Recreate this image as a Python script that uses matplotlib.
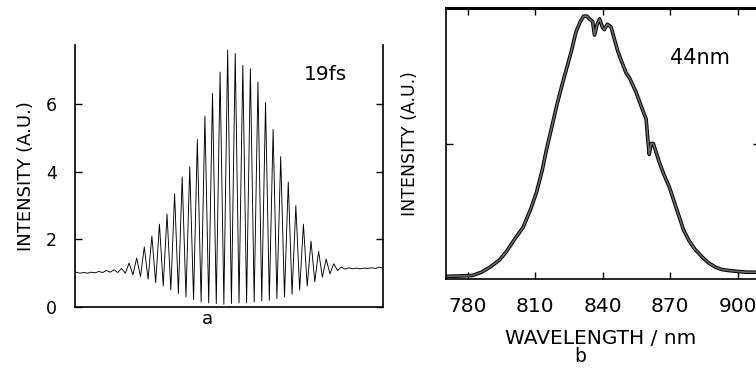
import numpy as np
import matplotlib
matplotlib.use("Agg")
import matplotlib.pyplot as plt

# (a) interferometric autocorrelation: fringe index, fringe maxima and minima
fringe_k = list(range(-20, 21))
fringe_hi = [1.03, 1.02, 1.03, 1.05, 1.08, 1.10, 1.14, 1.30, 1.45, 1.78,
             2.10, 2.45, 2.75, 3.35, 3.85, 4.15, 4.95, 5.65, 6.32, 6.95,
             7.60,
             7.50, 7.15, 7.05, 6.65, 6.05, 5.25, 4.45, 3.70, 3.00, 2.45,
             1.95, 1.65, 1.42, 1.28, 1.18, 1.16, 1.15, 1.15, 1.16, 1.18]
fringe_lo = [1.00, 1.00, 1.01, 1.02, 1.03, 1.02, 1.00, 0.95, 0.90, 0.82,
             0.72, 0.62, 0.50, 0.40, 0.30, 0.22, 0.15, 0.12, 0.10, 0.08,
             0.10,
             0.12, 0.12, 0.15, 0.18, 0.20, 0.25, 0.30, 0.38, 0.50, 0.62,
             0.75, 0.88, 0.98, 1.08, 1.12, 1.13, 1.13, 1.14, 1.14, 1.15]
period = 2.8  # fs, optical cycle at ~840 nm

# (b) spectrum
wl = [771, 776, 782, 786, 790, 794, 797, 801, 804.5, 808, 810.5, 813, 815,
      817, 819.5, 822, 824, 826, 828, 830, 831.5, 833, 834, 835.5, 836.3,
      837.5, 838.6, 839.8, 840.7, 842, 843.7, 845, 846.7, 848.5, 850.4, 852,
      854.8, 857, 859.3, 860, 860.7, 861.5, 862.5, 865.2, 867, 869.6, 872,
      874, 876, 878.5, 881, 884.4, 887, 890.3, 893, 896.3, 900, 904, 910]
spec = [0.01, 0.011, 0.013, 0.025, 0.045, 0.07, 0.10, 0.15, 0.19, 0.26, 0.32,
        0.40, 0.48, 0.55, 0.64, 0.72, 0.78, 0.84, 0.91, 0.95, 0.97, 0.97,
        0.96, 0.95, 0.90, 0.94, 0.96, 0.93, 0.92, 0.94, 0.93, 0.89, 0.84,
        0.80, 0.76, 0.74, 0.69, 0.64, 0.59, 0.52, 0.46, 0.50, 0.50, 0.43,
        0.39, 0.34, 0.28, 0.23, 0.18, 0.14, 0.11, 0.08, 0.06, 0.043, 0.035,
        0.031, 0.028, 0.025, 0.025]

W, H = 756, 371
fig = plt.figure(figsize=(W / 100, H / 100), dpi=100)
fig.patch.set_facecolor("white")

def px(x, y):
    return x / W, 1 - y / H

# ---------- panel a ----------
ax1 = fig.add_axes([75 / W, 1 - 307 / H, 308 / W, 262 / H])
t, v = [], []
for k, hi, lo in zip(fringe_k, fringe_hi, fringe_lo):
    t += [k * period, (k + 0.5) * period]
    v += [hi, lo]
ax1.plot(t, v, color="black", lw=0.65)
ax1.set_xlim(-56.4, 57.4)
ax1.set_ylim(0, 7.75)
ax1.set_yticks([0, 2, 4, 6])
ax1.set_xticks([])
ax1.spines["top"].set_visible(False)
for s in ["left", "right", "bottom"]:
    ax1.spines[s].set_linewidth(1.2)
ax1.tick_params(axis="y", direction="in", length=5, pad=13, labelsize=12.5,
                right=True, width=1)
ax1.set_ylabel("INTENSITY (A.U.)", fontsize=13, labelpad=8)
fig.text(*px(325, 74), "19fs", fontsize=14.5, ha="center", va="center")
fig.text(*px(207, 319), "a", fontsize=13, ha="center", va="center")

# ---------- panel b ----------
ax2 = fig.add_axes([446 / W, 1 - 279 / H, 314 / W, 271 / H])
ax2.plot(wl, spec, color="black", lw=2.6, solid_joinstyle="round")
ax2.plot(wl, spec, color="#6e6464", lw=1.2, solid_joinstyle="round")
ax2.set_xlim(770.2, 910)
ax2.set_ylim(0, 1)
ax2.set_xticks([780, 810, 840, 870, 900])
ax2.set_yticks([0.5])
ax2.set_yticklabels([])
for s in ax2.spines.values():
    s.set_linewidth(1.2)
ax2.spines["top"].set_linewidth(2.2)
ax2.tick_params(axis="x", direction="in", length=5, top=True, pad=13,
                labelsize=14.5, width=1)
ax2.tick_params(axis="y", direction="in", length=5, right=True, width=1)
ax2.set_ylabel("INTENSITY (A.U.)", fontsize=12.5, labelpad=16)
fig.text(*px(700, 58), "44nm", fontsize=15, ha="center", va="center")
fig.text(*px(601, 338), "WAVELENGTH / nm", fontsize=14.5, ha="center",
         va="center")
fig.text(*px(580, 356), "b", fontsize=13.5, ha="center", va="center")

fig.savefig("out.png", dpi=100, facecolor="white")
